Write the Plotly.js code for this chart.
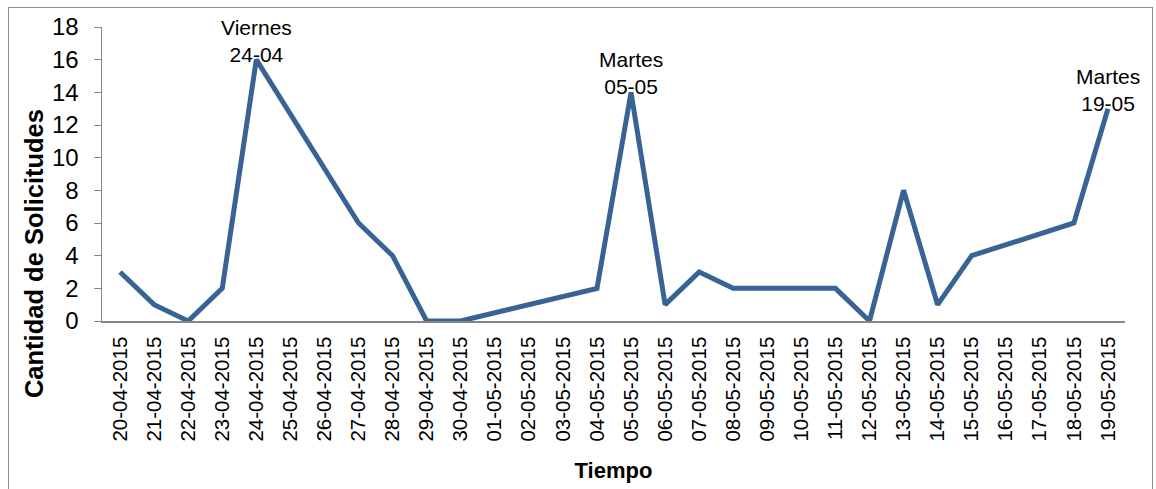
<!DOCTYPE html>
<html>
<head>
<meta charset="utf-8">
<script src="https://cdn.plot.ly/plotly-3.0.1.min.js"></script>
<style>
html,body{margin:0;padding:0;background:#fff;}
#frame{position:absolute;left:8px;top:7px;width:1145px;height:490px;border:1px solid #8c8c8c;box-sizing:border-box;}
#chart{position:absolute;left:0;top:0;width:1156px;height:489px;}
</style>
</head>
<body>
<div id="frame"></div>
<div id="chart"></div>
<script>
const dates = ["20-04-2015","21-04-2015","22-04-2015","23-04-2015","24-04-2015","25-04-2015","26-04-2015","27-04-2015","28-04-2015","29-04-2015","30-04-2015","01-05-2015","02-05-2015","03-05-2015","04-05-2015","05-05-2015","06-05-2015","07-05-2015","08-05-2015","09-05-2015","10-05-2015","11-05-2015","12-05-2015","13-05-2015","14-05-2015","15-05-2015","16-05-2015","17-05-2015","18-05-2015","19-05-2015"];
const solicitudes = [3,1,0,2,16,null,null,6,4,0,0,null,null,null,2,14,1,3,2,null,null,2,0,8,1,4,null,null,6,13];
const noteDates = ["24-04-2015","05-05-2015","19-05-2015"];
const noteTexts = ["Viernes<br>24-04","Martes<br>05-05","Martes<br>19-05"];
const yTicks = [0,2,4,6,8,10,12,14,16,18];
const yTitle = "Cantidad de Solicitudes";
const xTitle = "Tiempo";

const annotations = noteDates.map((d,i)=>({
  x: d, y: solicitudes[dates.indexOf(d)], xref:'x', yref:'y',
  text: noteTexts[i], showarrow:false, yanchor:'bottom', yshift:-8,
  font:{family:'Liberation Sans, Arial, sans-serif', size:21, color:'#000'}
}));
annotations.push({
  x:-0.0665, y:0.231, xref:'paper', yref:'paper', xanchor:'center', yanchor:'middle',
  text:'<b>'+yTitle+'</b>', textangle:-90, showarrow:false,
  font:{family:'Liberation Sans, Arial, sans-serif', size:25.5, color:'#000'}
});

Plotly.newPlot('chart', [{
  x: dates, y: solicitudes, type:'scatter', mode:'lines', connectgaps:true,
  line:{color:'#386495', width:5}, hoverinfo:'skip'
}], {
  width:1156, height:489,
  margin:{l:102, r:31, t:27, b:168},
  paper_bgcolor:'rgba(0,0,0,0)', plot_bgcolor:'rgba(0,0,0,0)',
  showlegend:false,
  font:{family:'Liberation Sans, Arial, sans-serif', color:'#000'},
  xaxis:{type:'category', range:[-0.53,29.5], showgrid:false, zeroline:false,
    showline:true, linecolor:'#868686', linewidth:1.5, ticks:'', tickangle:-90,
    tickfont:{size:20.5}, ticklabelstandoff:6,
    title:{text:'<b>'+xTitle+'</b>', font:{size:22}, standoff:22}},
  yaxis:{range:[0,18], tickvals:yTicks, showgrid:false, zeroline:false,
    showline:true, linecolor:'#868686', linewidth:1.5, ticks:'outside', ticklen:7, tickcolor:'#868686',
    tickfont:{size:24}, ticklabelstandoff:10},
  annotations: annotations
}, {staticPlot:true});
</script>
</body>
</html>
